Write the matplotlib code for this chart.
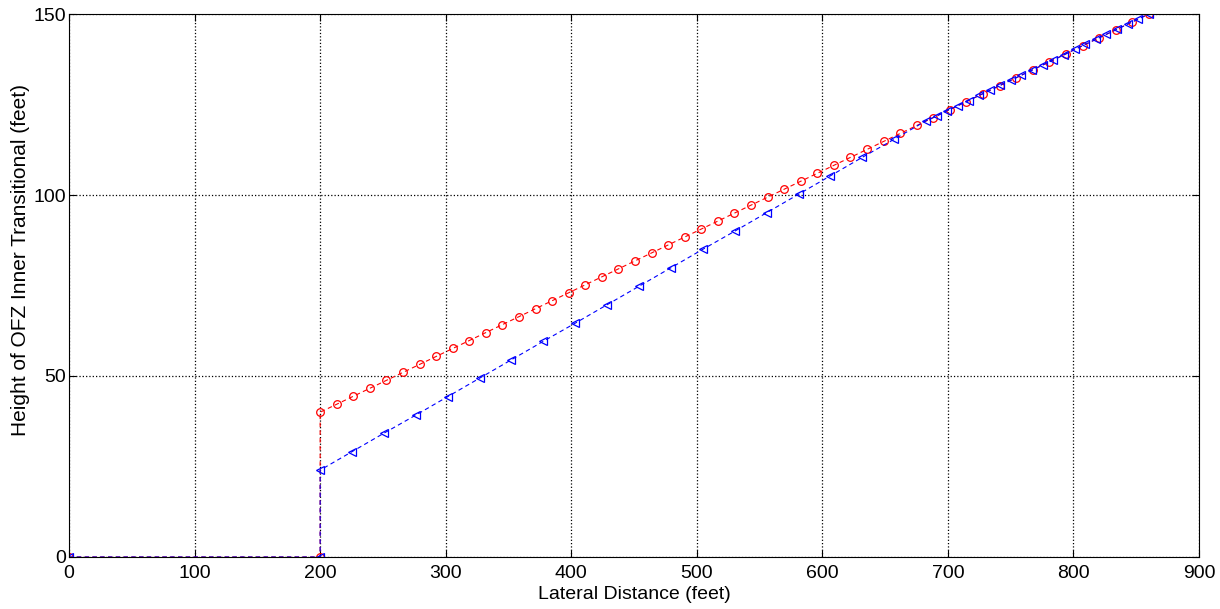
import matplotlib
matplotlib.use("Agg")
import matplotlib.pyplot as plt

# Red series (circles): flat at 0 up to 200 ft, then the 40 ft -> 150 ft ramp
red_x = [0, 200, 200.0, 213.2, 226.4, 239.6, 252.8, 266.0, 279.2, 292.4, 305.6, 318.8,
         332.0, 345.2, 358.4, 371.6, 384.8, 398.0, 411.2, 424.4, 437.6, 450.8,
         464.0, 477.2, 490.4, 503.6, 516.8, 530.0, 543.2, 556.4, 569.6, 582.8,
         596.0, 609.2, 622.4, 635.6, 648.8, 662.0, 675.2, 688.4, 701.6, 714.8,
         728.0, 741.2, 754.4, 767.6, 780.8, 794.0, 807.2, 820.4, 833.6, 846.8, 860.0]
red_y = [0, 0, 40.0, 42.2, 44.4, 46.6, 48.8, 51.0, 53.2, 55.4, 57.6, 59.8,
         62.0, 64.2, 66.4, 68.6, 70.8, 73.0, 75.2, 77.4, 79.6, 81.8,
         84.0, 86.2, 88.4, 90.6, 92.8, 95.0, 97.2, 99.4, 101.6, 103.8,
         106.0, 108.2, 110.4, 112.6, 114.8, 117.0, 119.2, 121.4, 123.6, 125.8,
         128.0, 130.2, 132.4, 134.6, 136.8, 139.0, 141.2, 143.4, 145.6, 147.8, 150.0]

# Blue series (triangles): starts at 24 ft, joins the red line near 690 ft
blue_x = [0, 200, 200.0, 225.4, 250.8, 276.2, 301.6, 327.0, 352.4, 377.8, 403.2, 428.6,
          454.0, 479.4, 504.8, 530.2, 555.6, 581.0, 606.4, 631.8, 657.2, 682.6,
          691.0, 699.5, 707.9, 716.4, 724.8, 733.3, 741.7, 750.2, 758.6, 767.1,
          775.5, 784.0, 792.4, 800.9, 809.3, 817.8, 826.2, 834.7, 843.1, 851.6, 860.0]
blue_y = [0, 0, 24.0, 29.1, 34.2, 39.2, 44.3, 49.4, 54.5, 59.6, 64.6, 69.7,
          74.8, 79.9, 85.0, 90.0, 95.1, 100.2, 105.3, 110.4, 115.4, 120.5,
          121.8, 123.3, 124.7, 126.1, 127.5, 128.9, 130.3, 131.7, 133.1, 134.5,
          135.9, 137.3, 138.7, 140.2, 141.6, 143.0, 144.4, 145.8, 147.2, 148.6, 150.0]

x_ticks = [0, 100, 200, 300, 400, 500, 600, 700, 800, 900]
y_ticks = [0, 50, 100, 150]

plt.rcParams['font.family'] = ['Liberation Sans', 'DejaVu Sans']

fig = plt.figure(figsize=(12.2, 6.09), dpi=100)
ax = fig.add_axes([0.0566, 0.0854, 0.9262, 0.8916])

ax.plot(red_x, red_y, color="red", linestyle="--", linewidth=0.8, dashes=(4, 3),
        marker="o", markersize=5.5, markerfacecolor="none", markeredgewidth=0.9)
ax.plot(blue_x, blue_y, color="blue", linestyle="--", linewidth=0.8, dashes=(4, 3),
        marker="<", markersize=6, markerfacecolor="none", markeredgewidth=0.9)

ax.set_xlim(0, 900)
ax.set_ylim(0, 150)
ax.set_xticks(x_ticks)
ax.set_yticks(y_ticks)
ax.grid(True, color="black", linestyle=":", linewidth=0.9)
ax.tick_params(direction="in", top=True, right=True, labelsize=14, length=5)
ax.tick_params(axis="x", pad=6)
ax.tick_params(axis="y", pad=2)
for s in ax.spines.values():
    s.set_linewidth(0.8)

ax.set_xlabel("Lateral Distance (feet)", fontsize=14, labelpad=3)
ax.set_ylabel("Height of OFZ Inner Transitional (feet)", fontsize=15)
ax.yaxis.set_label_coords(-0.035, 0.547)

fig.savefig("out.png", dpi=100)
